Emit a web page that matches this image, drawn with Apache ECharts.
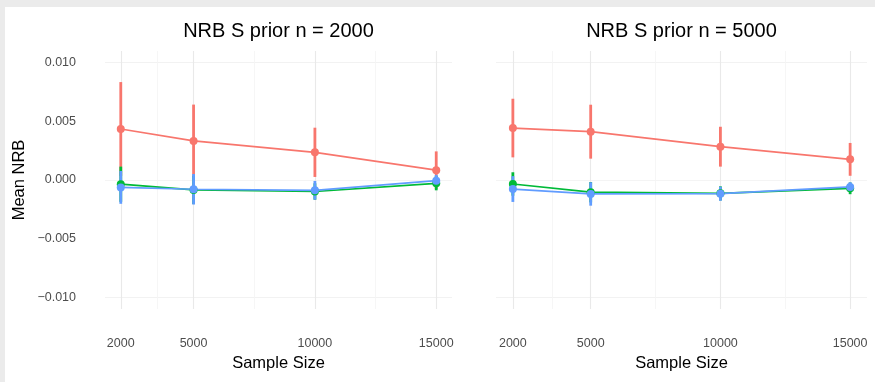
<!DOCTYPE html>
<html>
<head>
<meta charset="utf-8">
<script src="https://cdn.jsdelivr.net/npm/echarts@6/dist/echarts.min.js"></script>
<style>
  html, body { margin: 0; padding: 0; background: #ebebeb; }
  #chart { width: 875px; height: 382px; }
</style>
</head>
<body>
<div id="chart"></div>
<script>
// Sample sizes on the x axis
const sampleSizes = [2000, 5000, 10000, 15000];
const xMinorBreaks = [3500, 7500, 12500];
const yTicks = [-0.010, -0.005, 0.000, 0.005, 0.010];
const yMinorBreaks = [-0.0075, -0.0025, 0.0025, 0.0075];
const panelTitles = ['NRB S prior n = 2000', 'NRB S prior n = 5000'];

// Panel 1: prior n = 2000 (mean NRB and half-width of interval)
const p1RedMean   = [0.00435, 0.00333, 0.00236, 0.00084];
const p1RedErr    = [0.0040, 0.0031, 0.0021, 0.0016];
const p1GreenMean = [-0.00036, -0.00085, -0.00098, -0.00028];
const p1GreenErr  = [0.0015, 0.0012, 0.0007, 0.0006];
const p1BlueMean  = [-0.00063, -0.00079, -0.00088, -0.00006];
const p1BlueErr   = [0.0014, 0.0013, 0.0008, 0.0005];

// Panel 2: prior n = 5000
const p2RedMean   = [0.00443, 0.00412, 0.00284, 0.00176];
const p2RedErr    = [0.0025, 0.0023, 0.0017, 0.0014];
const p2GreenMean = [-0.00034, -0.00104, -0.00114, -0.00071];
const p2GreenErr  = [0.0010, 0.00087, 0.0006, 0.0005];
const p2BlueMean  = [-0.00077, -0.00119, -0.00117, -0.00059];
const p2BlueErr   = [0.0011, 0.0010, 0.0006, 0.0004];

const COLORS = ['#F8766D', '#00BA38', '#619CFF'];
const FONT = '"Liberation Sans", Arial, sans-serif';

const panels = [
  [[p1RedMean, p1RedErr], [p1GreenMean, p1GreenErr], [p1BlueMean, p1BlueErr]],
  [[p2RedMean, p2RedErr], [p2GreenMean, p2GreenErr], [p2BlueMean, p2BlueErr]]
];

const grids = [
  { left: 105, top: 51, width: 347, height: 258 },
  { left: 496, top: 51, width: 371, height: 258 }
];

const fmtY = v => (v < 0 ? '\u2212' : '') + Math.abs(v).toFixed(3);

const xAxes = grids.map((g, i) => ({
  type: 'value', gridIndex: i, min: 1350, max: 15650,
  axisLine: { show: false }, axisTick: { show: false }, splitLine: { show: false },
  axisLabel: { customValues: sampleSizes, formatter: v => String(v), margin: 28, fontSize: 12.5, color: '#4d4d4d', fontFamily: FONT },
  name: 'Sample Size', nameLocation: 'middle', nameGap: 44,
  nameTextStyle: { fontSize: 16.5, color: '#000', fontFamily: FONT }
}));

const yAxes = grids.map((g, i) => ({
  type: 'value', gridIndex: i, min: -0.011, max: 0.011,
  axisLine: { show: false }, axisTick: { show: false }, splitLine: { show: false },
  axisLabel: i === 0
    ? { customValues: yTicks, formatter: fmtY, margin: 29, fontSize: 12.5, color: '#4d4d4d', fontFamily: FONT }
    : { show: false },
  name: i === 0 ? 'Mean NRB' : '', nameLocation: 'middle', nameGap: 77, nameRotate: 90,
  nameTextStyle: { fontSize: 16.5, color: '#000', fontFamily: FONT }
}));

const series = [];

// Panel grid lines (major and minor), kept beneath the data
grids.forEach((g, i) => {
  const lines = [];
  yTicks.forEach(v => lines.push({ yAxis: v, lineStyle: { color: '#e9e9e9', width: 1.1, type: 'solid' } }));
  yMinorBreaks.forEach(v => lines.push({ yAxis: v, lineStyle: { color: '#f4f4f4', width: 0.8, type: 'solid' } }));
  sampleSizes.forEach(v => lines.push({ xAxis: v, lineStyle: { color: '#e9e9e9', width: 1.1, type: 'solid' } }));
  xMinorBreaks.forEach(v => lines.push({ xAxis: v, lineStyle: { color: '#f4f4f4', width: 0.8, type: 'solid' } }));
  series.push({
    type: 'line', xAxisIndex: i, yAxisIndex: i, data: [], z: 0, silent: true,
    markLine: { z: 0, silent: true, symbol: ['none', 'none'], label: { show: false }, animation: false, data: lines }
  });
});

// Mean lines with points and vertical interval bars
panels.forEach((groups, pi) => {
  groups.forEach(([mean, err], gi) => {
    const color = COLORS[gi];
    series.push({
      type: 'line', xAxisIndex: pi, yAxisIndex: pi, z: 2,
      data: sampleSizes.map((s, k) => [s, mean[k]]),
      symbol: 'circle', symbolSize: 8, showSymbol: true,
      lineStyle: { color, width: 1.7 }, itemStyle: { color },
      animation: false
    });
    series.push({
      type: 'custom', xAxisIndex: pi, yAxisIndex: pi, z: 2,
      data: sampleSizes.map((s, k) => [s, mean[k] - err[k], mean[k] + err[k]]),
      encode: { x: 0, y: [1, 2] },
      renderItem: (params, api) => {
        const x = api.value(0);
        const top = api.coord([x, api.value(2)]);
        const bot = api.coord([x, api.value(1)]);
        return {
          type: 'line',
          shape: { x1: top[0], y1: top[1], x2: bot[0], y2: bot[1] },
          style: { stroke: color, lineWidth: 2.8 }
        };
      },
      animation: false
    });
  });
});

const chart = echarts.init(document.getElementById('chart'), null, { renderer: 'canvas' });
chart.setOption({
  backgroundColor: '#ebebeb',
  animation: false,
  textStyle: { fontFamily: FONT },
  graphic: [
    { type: 'rect', left: 5, top: 7, z: -10, shape: { width: 870, height: 375 }, style: { fill: '#ffffff' } },
    ...panelTitles.map((t, i) => ({
      type: 'text', z: 10,
      x: grids[i].left + grids[i].width / 2, y: 31,
      style: { text: t, align: 'center', verticalAlign: 'middle', font: '20px "Liberation Sans", Arial, sans-serif', fill: '#000' }
    }))
  ],
  grid: grids,
  xAxis: xAxes,
  yAxis: yAxes,
  series
});
</script>
</body>
</html>
